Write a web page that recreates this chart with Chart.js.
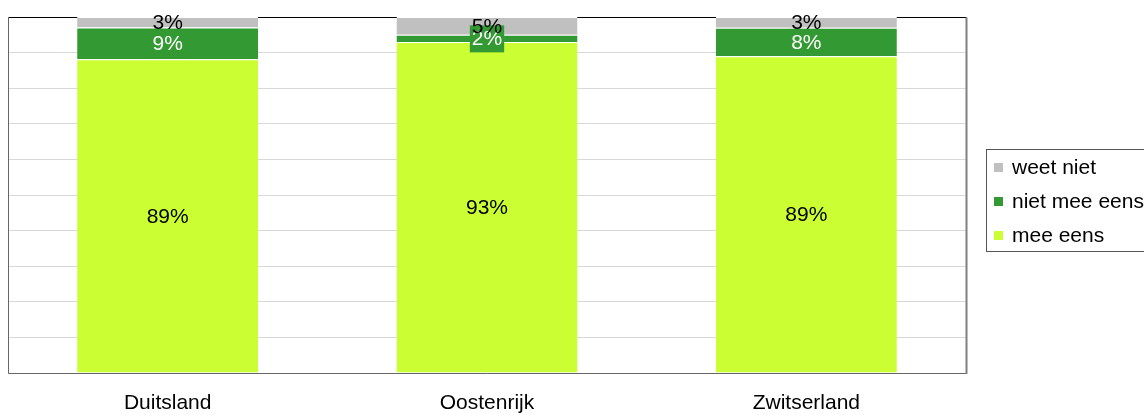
<!DOCTYPE html>
<html>
<head>
<meta charset="utf-8">
<script src="https://cdn.jsdelivr.net/npm/chart.js@4"></script>
<style>
  html, body { margin: 0; padding: 0; background: #fff; }
  #wrap { width: 1144px; height: 415px; position: relative; }
</style>
</head>
<body>
<div id="wrap"><canvas id="c" width="1144" height="415"></canvas></div>
<script>
// Survey answers per country, in percent (rounded as published)
const categories = ['Duitsland', 'Oostenrijk', 'Zwitserland'];
const meeEens = [89, 93, 89];
const nietMeeEens = [9, 2, 8];
const weetNiet = [3, 5, 3];
const seriesNames = ['mee eens', 'niet mee eens', 'weet niet'];

const FONT = '"Liberation Sans", Arial, sans-serif';
const colors = ['#CCFF33', '#339933', '#C0C0C0'];
const labelColors = ['#000000', '#FFFFFF', '#000000'];
const labelBoxes = [null, '#339933', null];

// 100% stacked: each bar is scaled to its own total
const raw = [meeEens, nietMeeEens, weetNiet];
const totals = categories.map((_, i) => raw.reduce((s, arr) => s + arr[i], 0));
const shares = raw.map(arr => arr.map((v, i) => v / totals[i] * 100));

const segmentLabels = {
  id: 'segmentLabels',
  afterDatasetsDraw(chart) {
    const ctx = chart.ctx;
    ctx.save();
    ctx.font = '21px ' + FONT;
    ctx.textAlign = 'center';
    ctx.textBaseline = 'middle';
    chart.data.datasets.forEach((ds, di) => {
      const meta = chart.getDatasetMeta(di);
      meta.data.forEach((bar, i) => {
        const txt = raw[di][i] + '%';
        const yc = (bar.y + bar.base) / 2;
        if (labelBoxes[di]) {
          const w = ctx.measureText(txt).width + 4;
          ctx.fillStyle = labelBoxes[di];
          ctx.fillRect(bar.x - w / 2, yc - 13, w, 27);
        }
        ctx.fillStyle = labelColors[di];
        ctx.fillText(txt, bar.x, yc + 1);
      });
    });
    ctx.restore();
  }
};

const frameAndLegend = {
  id: 'frameAndLegend',
  beforeDatasetsDraw(chart) {
    // top edge of the plot sits behind the bars
    const ctx = chart.ctx;
    const a = chart.chartArea;
    const L = Math.round(a.left) + 0.5, R = Math.round(a.right) + 0.5;
    const T = Math.round(a.top) + 0.5;
    ctx.save();
    ctx.lineWidth = 1;
    ctx.strokeStyle = '#000000';
    ctx.beginPath(); ctx.moveTo(L, T); ctx.lineTo(R, T); ctx.stroke();
    ctx.restore();
  },
  afterDraw(chart) {
    const ctx = chart.ctx;
    const a = chart.chartArea;
    ctx.save();
    ctx.lineWidth = 1;
    const L = Math.round(a.left) + 0.5, R = Math.round(a.right) + 0.5;
    const T = Math.round(a.top) + 0.5, B = Math.round(a.bottom) + 0.5;
    ctx.strokeStyle = '#666666';
    ctx.beginPath(); ctx.moveTo(L, T); ctx.lineTo(L, B); ctx.lineTo(R, B); ctx.stroke();
    ctx.strokeStyle = '#808080';
    ctx.lineWidth = 2;
    ctx.beginPath(); ctx.moveTo(R, T); ctx.lineTo(R, B + 0.5); ctx.stroke();

    // legend box
    ctx.lineWidth = 1;
    ctx.strokeStyle = '#555555';
    ctx.strokeRect(986.5, 149.5, 180, 102);
    ctx.font = '21px ' + FONT;
    ctx.textAlign = 'left';
    ctx.textBaseline = 'middle';
    const order = [2, 1, 0];
    order.forEach((di, k) => {
      const y = 167 + k * 34;
      ctx.fillStyle = chart.data.datasets[di].backgroundColor;
      ctx.fillRect(994, y - 4, 9, 9);
      ctx.fillStyle = '#000000';
      ctx.fillText(chart.data.datasets[di].label, 1012, y + 1);
    });
    ctx.restore();
  }
};

new Chart(document.getElementById('c'), {
  type: 'bar',
  data: {
    labels: categories,
    datasets: shares.map((vals, di) => ({
      label: seriesNames[di],
      data: vals,
      backgroundColor: colors[di],
      borderColor: '#FFFFFF',
      borderWidth: { top: 1 },
      borderSkipped: false,
      categoryPercentage: 1,
      barPercentage: 0.567
    }))
  },
  options: {
    responsive: false,
    animation: false,
    devicePixelRatio: 1,
    layout: { padding: { left: 8, top: 17, right: 178, bottom: 0 } },
    plugins: { legend: { display: false }, tooltip: { enabled: false } },
    scales: {
      x: {
        stacked: true,
        grid: { display: false, drawTicks: false },
        border: { display: false },
        ticks: { color: '#000000', font: { family: FONT, size: 21 }, padding: 18 },
        afterFit(scale) { scale.height = 42; }
      },
      y: {
        stacked: true,
        min: 0,
        max: 100,
        grid: { color: '#D9D9D9', drawTicks: false },
        border: { display: false },
        ticks: { display: false, stepSize: 10 },
        afterFit(scale) { scale.width = 0; }
      }
    }
  },
  plugins: [segmentLabels, frameAndLegend]
});
</script>
</body>
</html>
